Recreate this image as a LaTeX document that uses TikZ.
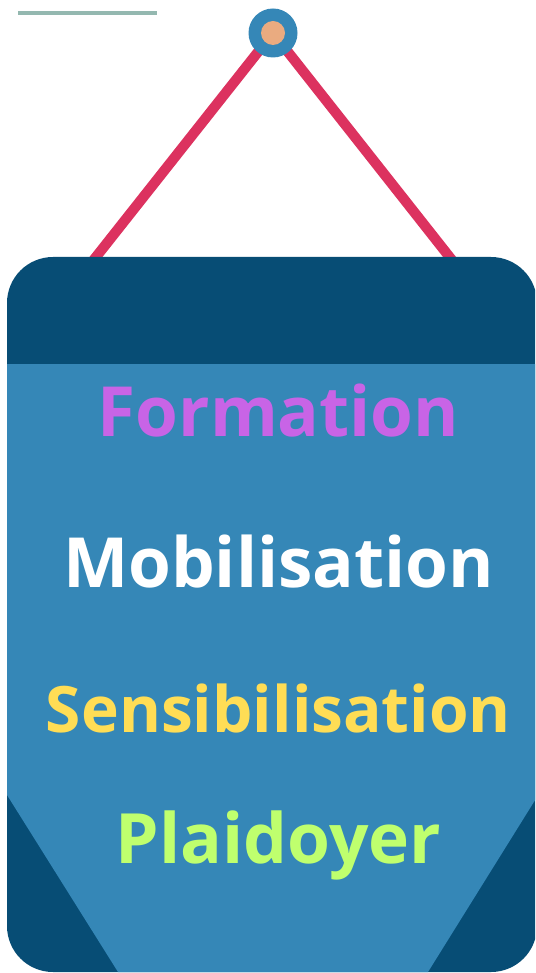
\documentclass[tikz,border=0pt]{standalone}
\usepackage{fontspec}
\setmainfont{Open Sans}
\definecolor{darkblue}{HTML}{074D75}
\definecolor{midblue}{HTML}{3587B7}
\definecolor{cordred}{HTML}{DC325F}
\definecolor{pinorange}{HTML}{EAAB80}
\definecolor{rulegreen}{HTML}{94B8B0}
\definecolor{labelpurple}{HTML}{C864E6}
\definecolor{labelyellow}{HTML}{FFDD55}
\definecolor{labelgreen}{HTML}{BFFF6E}
\tikzset{
  cord/.style={draw=cordred,line width=10.2pt},
  labeltext/.style={anchor=base,inner sep=0pt,font=\fontsize{#1}{70}\selectfont\bfseries},
}
\begin{document}
\begin{tikzpicture}[x=1pt,y=-1pt]
\useasboundingbox (0,0) rectangle (535,973);
\fill[white] (0,0) rectangle (535,973);
\draw[rulegreen,line width=4.4pt] (18,13) -- (157,13);
\coordinate (hub) at (273,33);
\coordinate (cl) at (92,262);
\coordinate (cr) at (453.5,262);
\draw[cord] (cl) -- (hub);
\draw[cord] (cr) -- (hub);
\node[circle,fill=midblue,minimum size=49pt,inner sep=0pt] (pin) at (hub) {};
\node[circle,fill=pinorange,minimum size=24pt,inner sep=0pt] (pinc) at (hub) {};
\begin{scope}
\clip (0,0) rectangle (535,973);
\fill[darkblue,rounded corners=46pt] (7,257) rectangle (537,972);
\fill[midblue] (7,364) -- (537,364) -- (537,797) -- (428,972) -- (118,972) -- (7,795) -- cycle;
\end{scope}
\node[labeltext=69.2,text=labelpurple] (t1) at (278.5,436) {Formation};
\node[labeltext=69.2,text=white] (t2) at (278.5,587) {Mobilisation};
\node[labeltext=64,text=labelyellow] (t3) at (278.5,732.5) {Sensibilisation};
\node[labeltext=69.4,text=labelgreen] (t4) at (278.5,863) {Plaidoyer};
\end{tikzpicture}
\end{document}
